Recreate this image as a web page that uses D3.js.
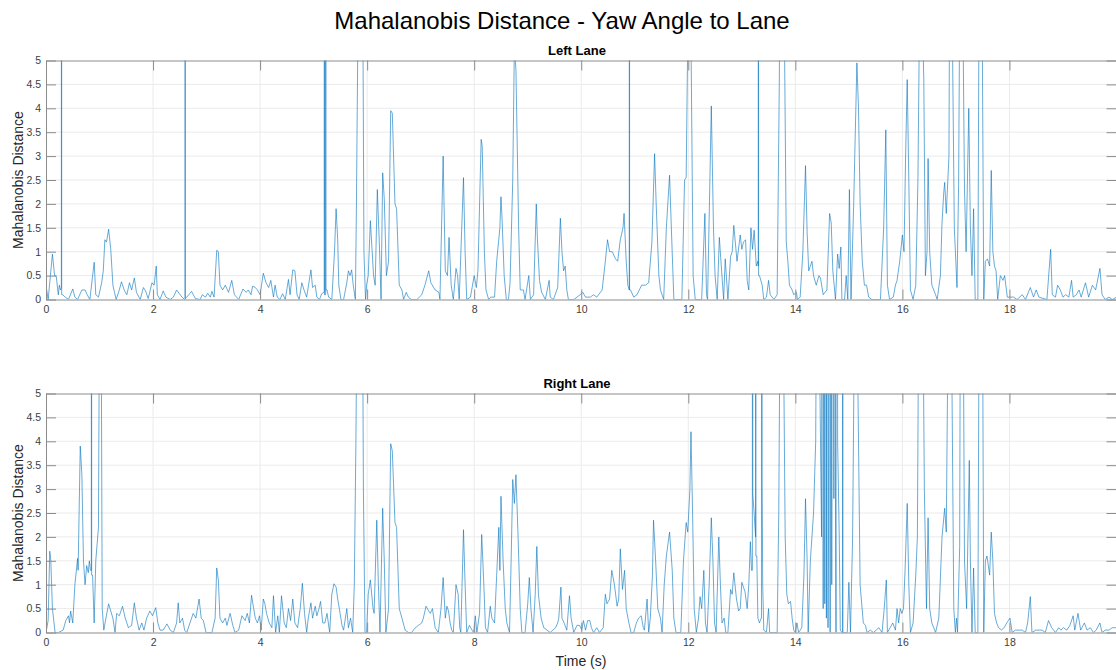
<!DOCTYPE html>
<html>
<head>
<meta charset="utf-8">
<script src="https://cdn.jsdelivr.net/npm/d3@7"></script>
<style>
  body { margin: 0; background: #fff; }
  svg { display: block; font-family: "Liberation Sans", Arial, sans-serif; }
</style>
</head>
<body>
<div id="chart"></div>
<script>
const figTitle = "Mahalanobis Distance - Yaw Angle to Lane";
const laneTitles = ["Left Lane", "Right Lane"];
const xLabel = "Time (s)";
const yLabel = "Mahalanobis Distance";
const xTicks = [0, 2, 4, 6, 8, 10, 12, 14, 16, 18];
const yTicks = [0, 0.5, 1, 1.5, 2, 2.5, 3, 3.5, 4, 4.5, 5];

// [time (s), distance]; values above 5 run off the top of the axes
const leftLane = [[0,0.3],[0.04,0],[0.12,0.95],[0.16,0.5],[0.19,0.5],[0.23,0.1],[0.25,0.3],[0.27,0.2],[0.287,0.25],[0.29,40],[0.293,0.1],[0.31,0.1],[0.36,0.05],[0.42,0],[0.5,0.22],[0.54,0.05],[0.59,0],[0.67,0.2],[0.73,0.2],[0.77,0.1],[0.82,0],[0.9,0.78],[0.93,0.1],[0.98,0.05],[1.04,0.35],[1.07,0.6],[1.1,1.25],[1.13,1.2],[1.17,1.47],[1.21,1.05],[1.25,0.3],[1.28,0.15],[1.31,0],[1.37,0.2],[1.41,0.37],[1.46,0.2],[1.51,0.1],[1.56,0.35],[1.6,0.2],[1.65,0.45],[1.69,0.15],[1.76,0],[1.82,0.25],[1.86,0.18],[1.91,0.02],[1.98,0.35],[2.02,0.3],[2.06,0.7],[2.08,0.1],[2.13,0],[2.19,0.18],[2.24,0.05],[2.32,0],[2.38,0.05],[2.44,0.2],[2.54,0.05],[2.59,0],[2.597,0.02],[2.6,40],[2.603,0.02],[2.63,0.05],[2.72,0.17],[2.79,0.02],[2.88,0],[2.92,0.1],[2.98,0.05],[3.02,0.13],[3.07,0.05],[3.1,0.17],[3.14,0.05],[3.19,1.03],[3.22,1],[3.25,0.3],[3.3,0.2],[3.35,0.3],[3.41,0.15],[3.47,0.4],[3.52,0.1],[3.6,0],[3.68,0.22],[3.74,0.15],[3.78,0.2],[3.83,0.1],[3.86,0.28],[3.91,0.25],[3.95,0.2],[4,0.1],[4.06,0.55],[4.11,0.35],[4.16,0.25],[4.2,0.4],[4.25,0.05],[4.28,0.3],[4.32,0.05],[4.37,0],[4.42,0.12],[4.47,0],[4.53,0.42],[4.56,0.1],[4.61,0.62],[4.65,0.6],[4.69,0.1],[4.73,0],[4.78,0.35],[4.82,0.2],[4.87,0.05],[4.95,0.62],[4.98,0.25],[5.03,0.3],[5.06,0.05],[5.11,0],[5.15,0.12],[5.19,0.15],[5.198,0.15],[5.2,40],[5.203,0.1],[5.224,0.1],[5.227,40],[5.23,0.2],[5.25,0.2],[5.28,0.05],[5.34,0],[5.39,1],[5.42,1.9],[5.45,1.25],[5.47,0.3],[5.51,0],[5.56,0],[5.62,0.35],[5.65,0.6],[5.68,0.5],[5.71,0.62],[5.74,0.3],[5.78,0],[5.8,2],[5.83,6],[5.87,12],[5.92,6],[5.94,1],[5.97,0],[5.99,0.3],[6.02,0.5],[6.06,1.65],[6.12,0.5],[6.15,0.3],[6.19,2.3],[6.23,1.1],[6.26,0],[6.29,2.65],[6.32,2.1],[6.36,0.5],[6.4,0.8],[6.44,3.95],[6.47,3.9],[6.52,2],[6.55,1.9],[6.6,0.3],[6.65,0.2],[6.68,0],[6.73,0.15],[6.77,0.05],[6.83,0],[6.93,0],[7.02,0.1],[7.08,0.3],[7.15,0.6],[7.19,0.35],[7.27,0.2],[7.34,0.15],[7.36,0],[7.42,3],[7.46,0.6],[7.5,0.5],[7.53,1.3],[7.57,0.3],[7.61,0],[7.66,0.65],[7.69,0.5],[7.72,0],[7.8,2.55],[7.83,1],[7.86,0],[7.93,0.05],[8,0.5],[8.04,0.25],[8.07,0.6],[8.13,3.35],[8.15,3.2],[8.19,1],[8.22,0.2],[8.27,0],[8.31,0.05],[8.38,0.05],[8.42,0.8],[8.48,1.5],[8.5,2.15],[8.52,1.7],[8.56,0.5],[8.6,0],[8.64,0],[8.67,0.35],[8.72,2.5],[8.75,5.3],[8.78,4.8],[8.83,1.5],[8.86,0.2],[8.92,0.2],[8.95,0],[9.02,0.5],[9.05,0],[9.11,0.1],[9.16,2],[9.18,1.3],[9.22,0.4],[9.26,0.15],[9.33,0],[9.4,0.4],[9.42,0.05],[9.48,0],[9.56,0.25],[9.61,1.7],[9.64,1],[9.67,0.6],[9.7,0.7],[9.73,0.2],[9.76,0],[9.86,0],[9.98,0.1],[10.03,0.15],[10.08,0.05],[10.17,0.05],[10.23,0.1],[10.29,0.05],[10.39,0.2],[10.45,0.8],[10.49,1.25],[10.53,1],[10.58,1],[10.64,0.85],[10.68,0.8],[10.73,1.25],[10.78,1.5],[10.8,1.8],[10.84,0.8],[10.87,0.3],[10.897,0.2],[10.9,40],[10.903,0.2],[10.92,0.2],[10.98,0.05],[11.04,0.1],[11.13,0.3],[11.2,0.3],[11.26,0.35],[11.32,1.2],[11.37,3.05],[11.4,2],[11.45,0.5],[11.48,0.2],[11.54,0],[11.59,1.5],[11.65,2.6],[11.68,1.6],[11.73,0],[11.88,0],[11.93,2.5],[11.96,2.55],[11.99,5.5],[12.02,8],[12.05,5.5],[12.09,0.5],[12.13,0],[12.25,0],[12.31,1.8],[12.34,0.1],[12.36,0],[12.4,2.3],[12.43,4.05],[12.47,1.5],[12.5,0.5],[12.54,0],[12.58,1.3],[12.61,0.8],[12.66,0],[12.69,0.85],[12.74,0],[12.79,0.9],[12.82,1],[12.85,1.55],[12.91,0.8],[12.97,1.35],[13,1.05],[13.03,1.2],[13.07,1.25],[13.1,0.4],[13.13,0.2],[13.17,1.5],[13.2,1.05],[13.23,1.45],[13.27,0.7],[13.3,0.8],[13.307,0.7],[13.31,40],[13.313,0.5],[13.33,0.5],[13.38,0.3],[13.41,0],[13.46,0.05],[13.5,0.4],[13.53,0.1],[13.6,0],[13.66,0.1],[13.7,4.5],[13.75,12],[13.8,5],[13.83,1.2],[13.86,0.8],[13.89,0.3],[13.94,0.2],[13.97,0.1],[14.02,0.15],[14.04,0],[14.09,0.05],[14.14,1],[14.19,2.8],[14.22,1.4],[14.25,0.6],[14.31,0.8],[14.34,0.5],[14.39,0.3],[14.44,0.5],[14.47,0.45],[14.52,0.1],[14.59,0.2],[14.64,1.8],[14.67,1.6],[14.7,0.6],[14.75,0],[14.79,0.95],[14.82,0.65],[14.85,1.1],[14.87,0],[14.92,0],[14.95,0.5],[14.98,0],[15.01,2.3],[15.04,0],[15.09,2],[15.12,3.5],[15.15,4.95],[15.18,4],[15.21,2],[15.25,0.8],[15.29,0.3],[15.33,0.3],[15.37,0.05],[15.43,0],[15.59,0],[15.65,1.5],[15.69,3.55],[15.72,0.3],[15.76,0],[15.83,0.05],[15.87,0.3],[15.9,0.4],[15.95,0.8],[16,1.35],[16.03,1],[16.06,3],[16.09,4.6],[16.12,2.5],[16.15,0.2],[16.2,0],[16.25,0.3],[16.29,2.5],[16.32,6],[16.35,10],[16.37,6],[16.4,4.6],[16.43,0.5],[16.46,1],[16.48,2.95],[16.51,1],[16.55,0.3],[16.62,0.1],[16.65,0],[16.71,0.5],[16.74,1.6],[16.77,2.2],[16.79,2.45],[16.82,1.8],[16.87,3],[16.88,6],[16.91,10],[16.93,6],[16.97,1.5],[17.02,0.25],[17.05,2.4],[17.07,6],[17.1,10],[17.13,6],[17.16,2.3],[17.19,1],[17.24,4],[17.27,1.5],[17.3,0.5],[17.33,1.9],[17.36,0],[17.41,0],[17.43,6],[17.46,10],[17.49,6],[17.52,0],[17.55,0.8],[17.59,0.85],[17.63,0.7],[17.66,2.7],[17.69,1],[17.72,0.7],[17.75,0.6],[17.78,0],[17.83,0.5],[17.88,0.4],[17.91,0.5],[17.96,0.05],[18.08,0.05],[18.14,0],[18.24,0.1],[18.3,0],[18.39,0.25],[18.45,0.05],[18.5,0.2],[18.55,0.05],[18.7,0],[18.77,1.05],[18.8,0.1],[18.86,0.05],[18.9,0.3],[18.95,0.2],[19,0.05],[19.05,0.1],[19.11,0.05],[19.16,0.4],[19.19,0.05],[19.25,0.1],[19.3,0.2],[19.34,0.05],[19.42,0.35],[19.48,0.05],[19.55,0.3],[19.61,0.2],[19.69,0.65],[19.73,0.1],[19.79,0],[19.86,0.05],[19.92,0],[20,0.05]];

const rightLane = [[0,0],[0.04,0.25],[0.07,1.7],[0.09,1.5],[0.12,0.5],[0.17,0],[0.23,0],[0.32,0.05],[0.37,0.25],[0.42,0.35],[0.44,0.2],[0.46,0.45],[0.5,0.2],[0.54,1],[0.59,1.55],[0.6,1.3],[0.64,3.9],[0.67,3.3],[0.7,1.5],[0.73,1],[0.76,1.4],[0.79,1.25],[0.81,1.5],[0.83,1.3],[0.847,1.3],[0.85,40],[0.853,1.2],[0.87,1.2],[0.9,0.2],[0.93,1.5],[0.98,2.2],[1,7],[1.02,12],[1.03,7],[1.05,0.5],[1.08,0.05],[1.12,0.3],[1.17,0.6],[1.21,0.45],[1.25,0.3],[1.29,0],[1.32,0.4],[1.37,0.35],[1.43,0.55],[1.48,0.3],[1.54,0.1],[1.6,0.15],[1.65,0.62],[1.69,0.3],[1.74,0.05],[1.79,0.2],[1.83,0.05],[1.88,0.3],[1.94,0.45],[1.99,0.35],[2.05,0.52],[2.09,0.2],[2.13,0.05],[2.19,0.05],[2.26,0.18],[2.32,0.05],[2.38,0],[2.44,0.2],[2.47,0.62],[2.5,0.2],[2.55,0.3],[2.59,0.05],[2.63,0],[2.69,0.2],[2.75,0.4],[2.8,0.3],[2.86,0.7],[2.9,0.3],[2.94,0.25],[2.99,0],[3.1,0],[3.16,0.3],[3.19,1.35],[3.22,1.1],[3.25,0.3],[3.3,0.2],[3.35,0.3],[3.38,0.15],[3.44,0.4],[3.49,0.15],[3.53,0],[3.6,0.05],[3.66,0.35],[3.72,0.25],[3.76,0.4],[3.8,0.2],[3.84,0.78],[3.88,0.5],[3.91,0.3],[3.95,0.2],[3.99,0.35],[4.02,0.05],[4.06,0.7],[4.09,0.6],[4.12,0.4],[4.17,0.2],[4.22,0.1],[4.25,0.77],[4.29,0],[4.33,0.35],[4.36,0],[4.4,0.77],[4.45,0.2],[4.49,0.1],[4.53,0.5],[4.57,0.25],[4.61,0.7],[4.65,0.2],[4.7,0.1],[4.75,0.5],[4.79,1.03],[4.83,0.4],[4.87,0],[4.9,0.3],[4.95,0.62],[4.98,0.3],[5.03,0.55],[5.06,0.35],[5.1,0.5],[5.13,0.65],[5.17,0.2],[5.21,0.2],[5.25,0.4],[5.3,0],[5.34,0.8],[5.38,1.02],[5.42,0.95],[5.45,0.7],[5.48,0.5],[5.53,0.15],[5.56,0.05],[5.62,0.5],[5.65,0.1],[5.69,0.3],[5.73,0],[5.76,1],[5.79,4],[5.82,8],[5.87,12],[5.91,8],[5.93,3],[5.96,0],[5.99,0],[6.02,0.8],[6.06,1.1],[6.11,0.5],[6.13,0.4],[6.18,2.35],[6.21,1],[6.24,0],[6.29,2.6],[6.32,1.5],[6.35,0],[6.4,0.5],[6.44,3.95],[6.47,3.8],[6.52,2.3],[6.55,2.2],[6.6,0.5],[6.65,0.3],[6.71,0.05],[6.77,0],[6.83,0],[6.9,0.1],[6.96,0.15],[7.02,0.2],[7.05,0.3],[7.1,0.55],[7.15,0.45],[7.18,0.4],[7.22,0.5],[7.27,0.1],[7.33,0],[7.38,0.5],[7.42,1.15],[7.46,0.3],[7.49,0.55],[7.52,0.45],[7.55,0.2],[7.58,0.05],[7.61,0],[7.66,1],[7.7,0.8],[7.73,0.1],[7.75,0],[7.8,2.15],[7.83,1],[7.86,0],[7.91,0.15],[7.96,0.05],[7.99,0],[8.02,0.35],[8.05,0],[8.1,0.4],[8.14,2.05],[8.18,1],[8.21,0.1],[8.25,0],[8.3,0.55],[8.33,0.3],[8.38,0.2],[8.42,1.2],[8.46,2.2],[8.48,1.3],[8.5,2.85],[8.54,1.5],[8.58,0.5],[8.61,0.2],[8.66,0],[8.69,1.5],[8.72,3.2],[8.75,2.7],[8.78,3.3],[8.82,2],[8.86,0.5],[8.89,0],[8.95,0],[9,0.6],[9.03,1.15],[9.06,0.5],[9.1,0],[9.14,0.8],[9.17,1.8],[9.2,0.8],[9.25,0.3],[9.3,0.1],[9.36,0.05],[9.42,0],[9.52,0.1],[9.56,0.2],[9.58,0.3],[9.62,0.95],[9.64,0.3],[9.68,0.2],[9.73,0.05],[9.78,0.77],[9.81,0.3],[9.86,0],[9.92,0.15],[9.97,0.15],[10.01,0.05],[10.04,0.25],[10.08,0.05],[10.12,0.25],[10.16,0.25],[10.19,0.1],[10.23,0],[10.29,0.1],[10.34,0],[10.41,0.1],[10.45,0.8],[10.48,0.6],[10.53,0.7],[10.57,1.3],[10.62,1],[10.67,0.55],[10.7,0.7],[10.73,1.75],[10.77,0.9],[10.81,1.3],[10.84,0.5],[10.89,0.2],[10.93,0],[10.98,0],[11.03,0.2],[11.07,0.3],[11.12,0.35],[11.16,0.1],[11.18,0.05],[11.23,0.7],[11.26,0],[11.29,0.3],[11.33,1.2],[11.35,2.35],[11.39,1.5],[11.43,0.5],[11.48,0.3],[11.51,0],[11.55,1],[11.59,1.6],[11.65,2.1],[11.7,1.3],[11.73,0.3],[11.77,0],[11.86,0],[11.91,1.5],[11.96,2.3],[11.99,2.1],[12.03,3],[12.05,4.2],[12.08,2.5],[12.11,0.5],[12.15,0],[12.19,0.3],[12.22,0.75],[12.25,0.5],[12.29,1.3],[12.32,0.2],[12.35,0],[12.39,1],[12.43,2.4],[12.46,1.5],[12.49,0.2],[12.52,0],[12.57,2],[12.6,1],[12.63,0.2],[12.67,0.3],[12.7,0],[12.74,0],[12.79,0.9],[12.82,0.8],[12.85,1.25],[12.9,0.7],[12.94,0.45],[12.97,0.5],[13,1.05],[13.03,0.95],[13.06,0.85],[13.1,0.5],[13.13,1],[13.16,1.9],[13.18,1.3],[13.197,1.3],[13.2,40],[13.205,2.9],[13.23,2.5],[13.257,2],[13.26,40],[13.263,1.6],[13.28,1.6],[13.3,0.3],[13.33,0.2],[13.36,0.3],[13.367,0.3],[13.37,40],[13.38,3.2],[13.39,1],[13.41,0.05],[13.46,0],[13.5,0.5],[13.52,0],[13.66,0],[13.69,2.5],[13.71,6],[13.75,12],[13.78,6],[13.81,2],[13.84,0.8],[13.87,0.6],[13.91,0.65],[13.94,0.3],[13.97,0.05],[14,0],[14.03,0.2],[14.06,0],[14.12,0.1],[14.16,1.2],[14.19,2.8],[14.22,1.5],[14.24,0],[14.28,1.5],[14.31,2],[14.34,2.5],[14.38,4],[14.39,6],[14.42,12],[14.45,6],[14.49,2],[14.51,40],[14.52,0.5],[14.54,40],[14.55,0.6],[14.56,40],[14.58,0.3],[14.59,40],[14.61,0.1],[14.62,2.2],[14.64,40],[14.65,0],[14.67,40],[14.68,1],[14.7,40],[14.72,2.8],[14.73,40],[14.75,2.8],[14.76,0],[14.77,40],[14.79,4],[14.82,2],[14.84,0.05],[14.87,0],[14.882,0],[14.885,40],[14.888,0],[14.9,0],[14.93,0],[14.97,0],[15,1.05],[15.03,0],[15.07,2],[15.1,6],[15.13,12],[15.16,6],[15.21,1],[15.27,0.2],[15.31,0.15],[15.34,0],[15.4,0.05],[15.46,0],[15.56,0.1],[15.62,0],[15.66,0.5],[15.7,1.1],[15.72,0],[15.77,0.1],[15.82,0.2],[15.87,0.05],[15.9,0.5],[15.93,0.2],[15.96,0.5],[15.99,0.4],[16.02,0.5],[16.05,1.3],[16.09,2.7],[16.12,1],[16.15,0],[16.2,0.2],[16.25,1.2],[16.28,2],[16.3,6],[16.35,12],[16.39,6],[16.41,3],[16.45,0.5],[16.48,2.4],[16.51,0.5],[16.55,0.2],[16.62,0],[16.68,0.3],[16.74,2],[16.79,2.6],[16.82,2.1],[16.85,6],[16.88,12],[16.92,6],[16.96,0.5],[16.99,0],[17.01,0.3],[17.03,0],[17.07,1.8],[17.08,6],[17.11,12],[17.14,6],[17.16,1.5],[17.2,0.5],[17.25,3.6],[17.27,1.5],[17.3,0],[17.33,1.35],[17.36,0],[17.41,0],[17.43,6],[17.46,12],[17.5,6],[17.52,0],[17.55,1.5],[17.58,1.6],[17.63,1.2],[17.66,2.1],[17.69,1.5],[17.72,0.4],[17.76,0.2],[17.8,0.1],[17.85,0.05],[17.9,0.1],[17.95,0.2],[17.98,0.25],[18.01,0.3],[18.05,0],[18.11,0.05],[18.18,0.05],[18.24,0.05],[18.3,0],[18.34,0.2],[18.39,0.75],[18.42,0],[18.49,0.05],[18.55,0.05],[18.61,0.05],[18.67,0],[18.73,0.25],[18.79,0.1],[18.86,0],[18.92,0.1],[18.96,0.05],[19.01,0.1],[19.07,0.05],[19.13,0.15],[19.19,0.35],[19.22,0.05],[19.28,0.4],[19.33,0.05],[19.4,0.2],[19.45,0.05],[19.51,0.1],[19.57,0],[19.62,0.05],[19.69,0.2],[19.73,0],[19.79,0.05],[19.86,0.05],[19.92,0.1],[20,0.1]];

const width = 1116, height = 670;

const svg = d3.select("#chart")
  .append("svg")
  .attr("width", width)
  .attr("height", height);

// Figure title
svg.append("text")
  .attr("x", 562)
  .attr("y", 29)
  .attr("text-anchor", "middle")
  .style("font-size", "24px")
  .style("fill", "#000")
  .text(figTitle);

class LanePlot {
  constructor(_config, _data) {
    this.config = {
      parent: _config.parent,
      id: _config.id,
      title: _config.title,
      top: _config.top,
      left: 46,
      right: 1116.5,
      plotHeight: 239,
      showXLabel: _config.showXLabel
    };
    this.data = _data;
    this.initVis();
  }

  initVis() {
    let vis = this;
    const c = vis.config;

    vis.xScale = d3.scaleLinear().domain([0, 20]).range([c.left, c.right]);
    vis.yScale = d3.scaleLinear().domain([0, 5]).range([c.top + c.plotHeight, c.top]);

    vis.g = c.parent.append("g");

    // Clip area for the signal
    vis.g.append("clipPath")
      .attr("id", `clip-${c.id}`)
      .append("rect")
      .attr("x", c.left)
      .attr("y", c.top)
      .attr("width", c.right - c.left)
      .attr("height", c.plotHeight);

    // Grid lines
    const grid = vis.g.append("g").attr("class", "grid");
    grid.selectAll(".vgrid")
      .data(xTicks.filter(d => d > 0))
      .join("line")
      .attr("x1", d => vis.xScale(d)).attr("x2", d => vis.xScale(d))
      .attr("y1", c.top).attr("y2", c.top + c.plotHeight)
      .attr("stroke", "#ebebeb").attr("stroke-width", 1);
    grid.selectAll(".hgrid")
      .data(yTicks.filter(d => d > 0 && d < 5))
      .join("line")
      .attr("x1", c.left).attr("x2", c.right)
      .attr("y1", d => vis.yScale(d)).attr("y2", d => vis.yScale(d))
      .attr("stroke", "#ebebeb").attr("stroke-width", 1);

    // Signal line
    vis.line = d3.line()
      .x(d => vis.xScale(d[0]))
      .y(d => vis.yScale(d[1]));

    vis.g.append("path")
      .datum(vis.data)
      .attr("clip-path", `url(#clip-${c.id})`)
      .attr("fill", "none")
      .attr("stroke", "#0072bd")
      .attr("stroke-width", 0.6)
      .attr("stroke-linejoin", "round")
      .attr("d", vis.line);

    // Axes (ticks point inward, MATLAB style)
    const axisColor = "#8c8c8c";
    const styleAxis = (sel) => {
      sel.selectAll(".domain").attr("stroke", axisColor);
      sel.selectAll(".tick line").attr("stroke", axisColor);
      sel.selectAll(".tick text").attr("fill", "#404040").style("font-size", "10.5px");
    };

    vis.g.append("g")
      .attr("transform", `translate(0,${c.top + c.plotHeight})`)
      .call(d3.axisBottom(vis.xScale).tickValues(xTicks).tickFormat(d3.format("d"))
        .tickSizeInner(-10).tickSizeOuter(0).tickPadding(6))
      .call(styleAxis);

    vis.g.append("g")
      .attr("transform", `translate(0,${c.top})`)
      .call(d3.axisTop(vis.xScale).tickValues(xTicks).tickFormat("")
        .tickSizeInner(-10).tickSizeOuter(0))
      .call(styleAxis);

    vis.g.append("g")
      .attr("transform", `translate(${c.left},0)`)
      .call(d3.axisLeft(vis.yScale).tickValues(yTicks).tickFormat(d3.format("~g"))
        .tickSizeInner(-10).tickSizeOuter(0).tickPadding(5))
      .call(styleAxis);

    vis.g.append("g")
      .attr("transform", `translate(${c.right},0)`)
      .call(d3.axisRight(vis.yScale).tickValues(yTicks).tickFormat("")
        .tickSizeInner(-10).tickSizeOuter(0))
      .call(styleAxis);

    // Subplot title
    vis.g.append("text")
      .attr("x", 577)
      .attr("y", c.top - 6)
      .attr("text-anchor", "middle")
      .style("font-size", "13px")
      .style("font-weight", "bold")
      .style("fill", "#000")
      .text(c.title);

    // Y axis label
    vis.g.append("text")
      .attr("transform", `translate(23,${c.top + c.plotHeight / 2}) rotate(-90)`)
      .attr("text-anchor", "middle")
      .style("font-size", "14px")
      .style("fill", "#262626")
      .text(yLabel);

    if (c.showXLabel) {
      vis.g.append("text")
        .attr("x", 581)
        .attr("y", c.top + c.plotHeight + 33)
        .attr("text-anchor", "middle")
        .style("font-size", "14px")
        .style("fill", "#262626")
        .text(xLabel);
    }
  }
}

new LanePlot({ parent: svg, id: "left", title: laneTitles[0], top: 60.5, showXLabel: false }, leftLane);
new LanePlot({ parent: svg, id: "right", title: laneTitles[1], top: 393.5, showXLabel: true }, rightLane);
</script>
</body>
</html>
